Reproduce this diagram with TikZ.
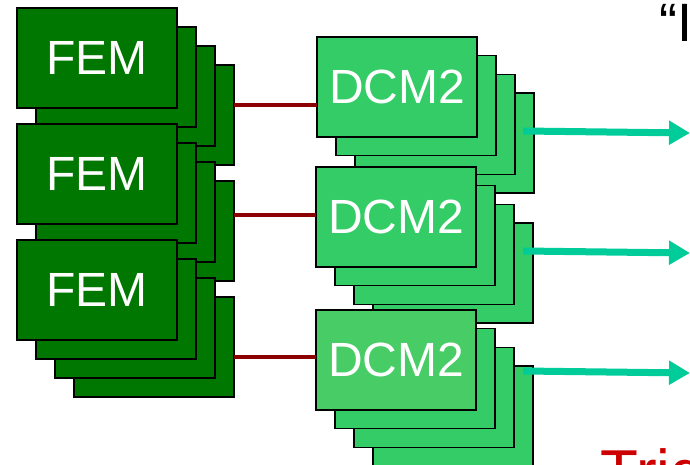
\documentclass[tikz,border=0pt]{standalone}
\usepackage{fontspec}
\setmainfont{Liberation Sans}
\usetikzlibrary{arrows.meta}
\definecolor{femgreen}{RGB}{0,119,0}
\definecolor{dcmgreen}{RGB}{51,204,102}
\definecolor{dcmfront}{RGB}{72,205,102}
\definecolor{linkred}{RGB}{139,0,0}
\definecolor{outteal}{RGB}{0,204,153}
\definecolor{trigred}{RGB}{204,0,0}
\begin{document}
\begin{tikzpicture}[x=1pt,y=-1pt,
  card/.style={draw=black, line width=1.5pt, minimum width=160pt, minimum height=100pt,
    inner sep=0pt, outer sep=0pt, anchor=north west, text=white, font=\fontsize{48}{48}\selectfont},
  fem/.style={card, fill=femgreen},
  dcm/.style={card, fill=dcmgreen},
  link/.style={draw=linkred, line width=4pt},
  outarrow/.style={draw=outteal, line width=7pt, -{Triangle[length=21pt,width=23pt]}},
]
\useasboundingbox (0,0) rectangle (690,465);
\clip (0,0) rectangle (690,465);

% FEM stacks
\foreach \s/\y in {1/8,2/124,3/240}{
  \foreach \k/\l in {3/d,2/c,1/b}{
    \node[fem] (f\s\l) at ({17+19*\k},{\y+19*\k}) {};
  }
  \node[fem] (f\s a) at (17,\y) {FEM};
}

% DCM2 stacks
\foreach \s/\x/\y/\fc in {1/317/37/dcmgreen,2/316/167/dcmgreen,3/316/310/dcmfront}{
  \foreach \k/\l in {3/d,2/c,1/b}{
    \node[dcm] (d\s\l) at ({\x+19*\k},{\y+18.7*\k}) {};
  }
  \node[dcm, fill=\fc] (d\s a) at (\x,\y) {DCM2};
}

% red links
\coordinate (y1) at (0,105);
\coordinate (y2) at (0,215);
\coordinate (y3) at (0,357);
\draw[link] (f1d.east |- y1) -- (d1a.west |- y1);
\draw[link] (f2d.east |- y2) -- (d2a.west |- y2);
\draw[link] (f3d.east |- y3) -- (d3a.west |- y3);

% output arrows
\coordinate (o1s) at (523,131); \coordinate (o1e) at (690,133);
\coordinate (o2s) at (523,251); \coordinate (o2e) at (690,253);
\coordinate (o3s) at (523,371); \coordinate (o3e) at (690,373);
\draw[outarrow] (o1s) -- (o1e);
\draw[outarrow] (o2s) -- (o2e);
\draw[outarrow] (o3s) -- (o3e);

% partial texts at the edges
\node[anchor=base west, inner sep=0pt, font=\fontsize{54}{54}\selectfont] (ttl) at (659,42) {“I};
\node[anchor=base west, inner sep=0pt, text=trigred, font=\fontsize{62}{62}\selectfont] (trg) at (600.5,493.4) {Trig};
\end{tikzpicture}
\end{document}
